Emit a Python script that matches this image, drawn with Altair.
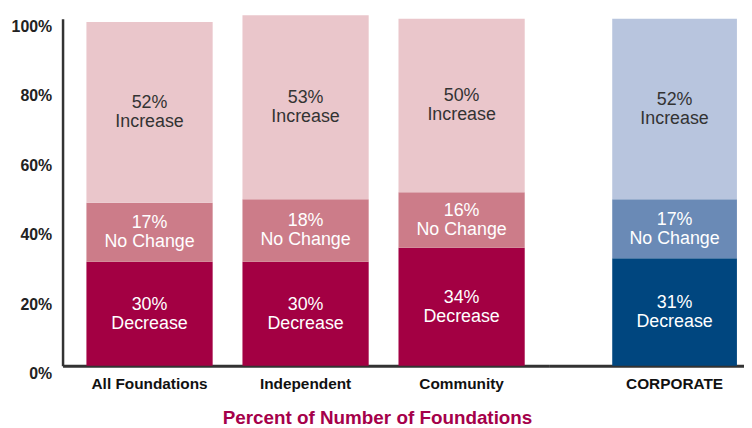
import altair as alt
import pandas as pd

categories = ["All Foundations", "Independent", "Community", "CORPORATE"]
decrease = [30, 30, 34, 31]
no_change = [17, 18, 16, 17]
increase = [52, 53, 50, 52]
segments = ["Decrease", "No Change", "Increase"]

foundation_colors = ["#A30043", "#CC7C89", "#EAC6CB"]
corporate_colors = ["#00467F", "#6A8AB6", "#B8C5DE"]

rows = []
for i, c in enumerate(categories):
    vals = [decrease[i], no_change[i], increase[i]]
    for r, (s, v) in enumerate(zip(segments, vals)):
        rows.append({"cat": c, "segment": s, "rank": r, "value": v,
                     "label": f"{v}%\n{s}"})
df = pd.DataFrame(rows)

FONT = "Liberation Sans"


def panel(cats, colors, width, p_inner, p_outer, align, show_y):
    data = df[df["cat"].isin(cats)]
    base = alt.Chart(data).transform_stack(
        stack="value", groupby=["cat"], as_=["y0", "y1"],
        sort=[alt.SortField("rank", order="ascending")]
    ).transform_calculate(mid="(datum.y0 + datum.y1) / 2")

    x = alt.X("cat:N", sort=cats, title=None,
              scale=alt.Scale(paddingInner=p_inner, paddingOuter=p_outer,
                              align=align, round=False),
              axis=alt.Axis(labelAngle=0, ticks=False, domainColor="#333333",
                            domainWidth=3, labelFont=FONT, labelFontSize=15.5,
                            labelFontWeight="bold", labelColor="#111111",
                            labelPadding=11))
    yscale = alt.Scale(domain=[0, 100], nice=False)
    if show_y:
        yaxis = alt.Axis(values=[0, 20, 40, 60, 80, 100],
                         labelExpr="datum.value + '%'", ticks=False, grid=False,
                         domainColor="#333333", domainWidth=2.5, labelFont=FONT,
                         labelFontSize=16, labelFontWeight="bold",
                         labelColor="#222222", labelPadding=11, labelOffset=8,
                         title=None)
    else:
        yaxis = None

    bars = base.mark_bar(clip=False).encode(
        x=x,
        y=alt.Y("y0:Q", scale=yscale, axis=yaxis, title=None),
        y2="y1:Q",
        color=alt.Color("segment:N", scale=alt.Scale(domain=segments, range=colors),
                        legend=None),
    )
    text = base.mark_text(font=FONT, fontSize=18, lineBreak="\n", lineHeight=19,
                          baseline="middle", align="center", dy=-9).encode(
        x=x,
        y=alt.Y("mid:Q", scale=yscale, title=None),
        text="label:N",
        color=alt.condition(alt.datum.segment == "Increase",
                            alt.value("#333333"), alt.value("white")),
    )
    return alt.layer(bars, text).properties(width=width, height=350)


left = panel(categories[:3], foundation_colors, 490, 0.191, 0.153, 0.5, True)
right = panel(categories[3:], corporate_colors, 197, 0.0, 0.2835, 0.9, False)

chart = alt.hconcat(left, right, spacing=0).resolve_scale(
    color="independent", x="independent", y="shared"
).properties(
    title=alt.TitleParams("Percent of Number of Foundations", orient="bottom",
                          anchor="middle", fontSize=19, color="#A5004A",
                          font=FONT, fontWeight="bold", offset=17),
    padding={"left": 3, "top": 5, "right": 0, "bottom": 2},
).configure_view(stroke=None)

chart.save("out.html", embed_options={"renderer": "svg", "actions": False})
